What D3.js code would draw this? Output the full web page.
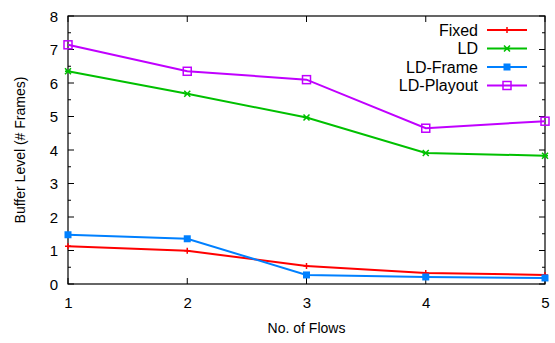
<!DOCTYPE html>
<html><head><meta charset="utf-8">
<script src="https://cdn.jsdelivr.net/npm/d3@7"></script>
<style>body{margin:0;background:#fff}svg{display:block}text{font-family:"Liberation Sans",Arial,sans-serif;fill:#000}</style>
</head><body><svg id="c" width="555" height="343"></svg>
<script>
const flows = [1, 2, 3, 4, 5];
const fixedVals = [1.13, 0.99, 0.54, 0.33, 0.27];
const ldVals = [6.35, 5.68, 4.97, 3.91, 3.83];
const ldFrameVals = [1.47, 1.35, 0.27, 0.21, 0.18];
const ldPlayoutVals = [7.14, 6.35, 6.10, 4.65, 4.86];
const seriesNames = ["Fixed", "LD", "LD-Frame", "LD-Playout"];
const seriesColors = ["#ff0000", "#00c000", "#0080ff", "#c000ff"];
const seriesMarkers = ["plus", "star", "fsquare", "osquare"];
const yTicks = [0, 1, 2, 3, 4, 5, 6, 7, 8];
const xTicks = [1, 2, 3, 4, 5];
const xLabel = "No. of Flows";
const yLabel = "Buffer Level (# Frames)";

const series = [fixedVals, ldVals, ldFrameVals, ldPlayoutVals].map((v, i) => ({
  name: seriesNames[i], color: seriesColors[i], marker: seriesMarkers[i],
  pts: flows.map((f, j) => ({x: f, y: v[j]}))
}));

const L = 68, R = 545, T = 16, B = 284;
const svg = d3.select("#c");
const x = d3.scaleLinear().domain([1, 5]).range([L, R]);
const y = d3.scaleLinear().domain([0, 8]).range([B, T]);

svg.append("rect").attr("x", L).attr("y", T).attr("width", R - L).attr("height", B - T)
  .attr("fill", "none").attr("stroke", "#000").attr("stroke-width", 1.2);

const yMinor = d3.range(0, 8.01, 0.5);
yMinor.forEach(v => {
  const len = Number.isInteger(v) ? 6 : 3;
  svg.append("line").attr("x1", L).attr("x2", L + len).attr("y1", y(v)).attr("y2", y(v)).attr("stroke", "#000");
  svg.append("line").attr("x1", R).attr("x2", R - len).attr("y1", y(v)).attr("y2", y(v)).attr("stroke", "#000");
});
const yAxis = d3.axisLeft(y).tickValues(yTicks).tickSize(0).tickPadding(10).tickFormat(d3.format("d"));
const gy = svg.append("g").attr("transform", `translate(${L},0)`).call(yAxis);
gy.select(".domain").remove();
gy.selectAll("text").style("font-size", "15px").attr("dy", "0.35em");

xTicks.forEach(v => {
  svg.append("line").attr("x1", x(v)).attr("x2", x(v)).attr("y1", B).attr("y2", B - 6).attr("stroke", "#000");
  svg.append("line").attr("x1", x(v)).attr("x2", x(v)).attr("y1", T).attr("y2", T + 6).attr("stroke", "#000");
});
const xAxis = d3.axisBottom(x).tickValues(xTicks).tickSize(0).tickPadding(13).tickFormat(d3.format("d"));
const gx = svg.append("g").attr("transform", `translate(0,${B})`).call(xAxis);
gx.select(".domain").remove();
gx.selectAll("text").style("font-size", "15px");

svg.append("text").attr("x", (L + R) / 2).attr("y", 333).attr("text-anchor", "middle")
  .style("font-size", "14px").text(xLabel);
svg.append("text").attr("transform", `translate(25,${(T + B) / 2}) rotate(-90)`).attr("text-anchor", "middle")
  .style("font-size", "14px").text(yLabel);

function drawMarker(g, type, cx, cy, color) {
  if (type === "plus") {
    g.append("path").attr("d", `M${cx-3},${cy}H${cx+3}M${cx},${cy-3}V${cy+3}`).attr("stroke", color).attr("stroke-width", 1.5);
  } else if (type === "star") {
    g.append("path").attr("d", `M${cx-3},${cy-3}L${cx+3},${cy+3}M${cx-3},${cy+3}L${cx+3},${cy-3}M${cx-3},${cy}H${cx+3}`).attr("stroke", color).attr("stroke-width", 1.5);
  } else if (type === "fsquare") {
    g.append("rect").attr("x", cx - 3.5).attr("y", cy - 3.5).attr("width", 7).attr("height", 7).attr("fill", color);
  } else {
    g.append("rect").attr("x", cx - 4).attr("y", cy - 4).attr("width", 8).attr("height", 8).attr("fill", "none").attr("stroke", color).attr("stroke-width", 1.5);
  }
}

const line = d3.line().x(d => x(d.x)).y(d => y(d.y));
series.forEach(s => {
  const g = svg.append("g");
  g.append("path").datum(s.pts).attr("d", line).attr("fill", "none").attr("stroke", s.color).attr("stroke-width", 2);
  s.pts.forEach(p => drawMarker(g, s.marker, x(p.x), y(p.y), s.color));
});

series.forEach((s, i) => {
  const ly = 30 + i * 18.5;
  const g = svg.append("g");
  g.append("text").attr("x", 478).attr("y", ly).attr("dy", "0.35em").attr("text-anchor", "end")
    .style("font-size", "16px").text(s.name);
  g.append("line").attr("x1", 487).attr("x2", 527).attr("y1", ly).attr("y2", ly).attr("stroke", s.color).attr("stroke-width", 2);
  drawMarker(g, s.marker, 507, ly, s.color);
});
</script></body></html>
